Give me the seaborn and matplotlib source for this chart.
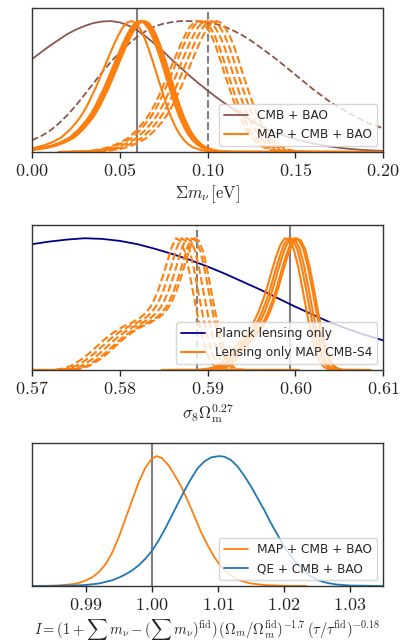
import matplotlib
matplotlib.use("Agg")
import matplotlib.pyplot as plt
import pandas as pd
import seaborn as sns

# ---- panel 1: sum of neutrino masses ----
MNU_X = [0.000, 0.005, 0.010, 0.015, 0.020, 0.025, 0.030, 0.035, 0.040, 0.045,
         0.050, 0.055, 0.060, 0.065, 0.070, 0.075, 0.080, 0.085, 0.090, 0.095,
         0.100, 0.105, 0.110, 0.115, 0.120, 0.125, 0.130, 0.135, 0.140, 0.145,
         0.150, 0.155, 0.160, 0.165, 0.170, 0.175, 0.180, 0.185, 0.190, 0.195, 0.200]
CMB_BAO_SOLID = [0.71, 0.76, 0.81, 0.855, 0.90, 0.935, 0.963, 0.985, 0.997, 1.000,
                 0.99, 0.965, 0.93, 0.88, 0.825, 0.765, 0.70, 0.64, 0.58, 0.523,
                 0.47, 0.418, 0.37, 0.323, 0.28, 0.238, 0.20, 0.168, 0.14, 0.118,
                 0.098, 0.08, 0.065, 0.052, 0.041, 0.032, 0.025, 0.019, 0.014, 0.011, 0.008]
CMB_BAO_DASHED = [0.09, 0.12, 0.16, 0.215, 0.28, 0.355, 0.44, 0.525, 0.61, 0.69,
                  0.76, 0.825, 0.88, 0.925, 0.96, 0.98, 0.993, 1.0, 1.0, 0.997,
                  0.99, 0.977, 0.955, 0.925, 0.89, 0.848, 0.80, 0.75, 0.70, 0.645,
                  0.59, 0.535, 0.48, 0.43, 0.38, 0.34, 0.30, 0.265, 0.23, 0.205, 0.18]

MAP_SOLID_DX = [-0.070, -0.065, -0.060, -0.055, -0.050, -0.045, -0.040, -0.035, -0.030,
                -0.0275, -0.025, -0.0225, -0.020, -0.0175, -0.015, -0.0125, -0.010,
                -0.0075, -0.005, -0.0025, 0.0, 0.0025, 0.005, 0.0075, 0.010, 0.0125,
                0.015, 0.0175, 0.020, 0.0225, 0.025, 0.0275, 0.030, 0.0325, 0.035,
                0.040, 0.045, 0.050, 0.090]
MAP_SOLID_Y = [0.010, 0.015, 0.022, 0.033, 0.050, 0.075, 0.11, 0.17, 0.25,
               0.30, 0.36, 0.43, 0.50, 0.58, 0.66, 0.74, 0.82,
               0.89, 0.95, 0.988, 1.0, 0.985, 0.94, 0.87, 0.78, 0.68,
               0.57, 0.465, 0.36, 0.27, 0.195, 0.135, 0.09, 0.058, 0.036,
               0.013, 0.004, 0.001, 0.0]
MAP_SOLID_PEAKS = [0.0566, 0.0614, 0.0623, 0.0633, 0.0640]

MAP_DASHED_DX = [-0.080, -0.065, -0.060, -0.055, -0.050, -0.045, -0.040, -0.035, -0.030,
                 -0.0275, -0.025, -0.0225, -0.020, -0.0175, -0.015, -0.0125, -0.010,
                 -0.0075, -0.005, -0.0025, 0.0, 0.0025, 0.005, 0.0075, 0.010, 0.0125,
                 0.015, 0.0175, 0.020, 0.0225, 0.025, 0.0275, 0.030, 0.0325, 0.035,
                 0.040, 0.045, 0.050, 0.100]
MAP_DASHED_Y = [0.0, 0.006, 0.012, 0.022, 0.040, 0.068, 0.105, 0.165, 0.245,
                0.295, 0.355, 0.425, 0.50, 0.58, 0.66, 0.74, 0.82,
                0.89, 0.95, 0.988, 1.0, 0.988, 0.95, 0.89, 0.81, 0.71,
                0.60, 0.50, 0.40, 0.31, 0.235, 0.17, 0.12, 0.08, 0.052,
                0.02, 0.007, 0.002, 0.0]
MAP_DASHED_PEAKS = [0.0946, 0.0965, 0.0994, 0.1022, 0.1050]

MNU_TICKS = [0.00, 0.05, 0.10, 0.15, 0.20]
MNU_TICK_LABELS = ["0.00", "0.05", "0.10", "0.15", "0.20"]

# ---- panel 2: sigma8 Omega_m^0.27 ----
S8_X = [0.570, 0.572, 0.574, 0.576, 0.578, 0.580, 0.582, 0.584, 0.586, 0.588, 0.590,
        0.592, 0.594, 0.596, 0.598, 0.600, 0.602, 0.604, 0.606, 0.608, 0.610]
PLANCK_LENS = [0.955, 0.975, 0.99, 1.0, 0.995, 0.98, 0.955, 0.92, 0.88, 0.835, 0.785,
               0.73, 0.67, 0.61, 0.545, 0.48, 0.42, 0.36, 0.31, 0.265, 0.225]

S4_DASHED_DX = [-0.020, -0.014, -0.013, -0.012, -0.011, -0.010, -0.009, -0.008, -0.007,
                -0.006, -0.005, -0.0045, -0.004, -0.0035, -0.003, -0.0025, -0.002,
                -0.0015, -0.001, -0.0005, 0.0, 0.0005, 0.001, 0.0015, 0.002, 0.0025,
                0.003, 0.0035, 0.004, 0.0045, 0.005, 0.006, 0.012]
S4_DASHED_Y = [0.0, 0.0, 0.01, 0.03, 0.07, 0.12, 0.18, 0.24, 0.29,
               0.33, 0.36, 0.38, 0.40, 0.43, 0.47, 0.53, 0.61,
               0.71, 0.82, 0.93, 1.0, 0.98, 0.90, 0.75, 0.57, 0.40,
               0.25, 0.13, 0.06, 0.02, 0.005, 0.0, 0.0]
S4_DASHED_PEAKS = [0.5864, 0.5870, 0.5876, 0.5882, 0.5885]

S4_SOLID_DX = [-0.014, -0.010, -0.009, -0.008, -0.0075, -0.007, -0.0065, -0.006, -0.0055,
               -0.005, -0.0045, -0.004, -0.0035, -0.003, -0.0025, -0.002, -0.0015,
               -0.001, -0.0005, 0.0, 0.0005, 0.001, 0.0015, 0.002, 0.0025, 0.003,
               0.0035, 0.004, 0.0045, 0.005, 0.0055, 0.0085]
S4_SOLID_Y = [0.0, 0.0, 0.008, 0.02, 0.04, 0.07, 0.11, 0.15, 0.19,
              0.23, 0.27, 0.31, 0.37, 0.44, 0.53, 0.63, 0.75,
              0.86, 0.95, 1.0, 0.985, 0.92, 0.79, 0.62, 0.44, 0.27,
              0.14, 0.06, 0.02, 0.005, 0.0, 0.0]
S4_SOLID_PEAKS = [0.5988, 0.5992, 0.5995, 0.5999, 0.6001]

S8_TICKS = [0.57, 0.58, 0.59, 0.60, 0.61]
S8_TICK_LABELS = ["0.57", "0.58", "0.59", "0.60", "0.61"]

# ---- panel 3: combined parameter I ----
I_MAP_X = [0.9818, 0.984, 0.986, 0.988, 0.989, 0.990, 0.991, 0.992, 0.993, 0.994,
           0.995, 0.996, 0.997, 0.998, 0.999, 1.000, 1.0007, 1.0015, 1.0025, 1.0035,
           1.0045, 1.0055, 1.0065, 1.0075, 1.0085, 1.0095, 1.0105, 1.0115, 1.0125,
           1.0135, 1.015, 1.017, 1.020, 1.0235]
I_MAP_Y = [0.0, 0.002, 0.005, 0.015, 0.025, 0.044, 0.07, 0.11, 0.17, 0.26,
           0.38, 0.52, 0.66, 0.80, 0.91, 0.98, 1.0, 0.985, 0.93, 0.85,
           0.76, 0.65, 0.53, 0.41, 0.31, 0.22, 0.15, 0.10, 0.065,
           0.04, 0.02, 0.008, 0.002, 0.0]
I_QE_X = [0.9818, 0.985, 0.988, 0.990, 0.992, 0.994, 0.995, 0.996, 0.997, 0.998,
          0.999, 1.000, 1.001, 1.002, 1.003, 1.004, 1.005, 1.006, 1.007, 1.008,
          1.009, 1.0102, 1.011, 1.012, 1.013, 1.014, 1.015, 1.016, 1.017, 1.018,
          1.019, 1.020, 1.021, 1.022, 1.023, 1.024, 1.025, 1.026, 1.027, 1.028,
          1.030, 1.0351]
I_QE_Y = [0.0, 0.001, 0.004, 0.008, 0.02, 0.045, 0.065, 0.09, 0.12, 0.16,
          0.21, 0.27, 0.35, 0.44, 0.54, 0.64, 0.74, 0.83, 0.91, 0.96,
          0.99, 1.0, 0.995, 0.97, 0.92, 0.85, 0.77, 0.68, 0.59, 0.49,
          0.40, 0.31, 0.24, 0.17, 0.12, 0.08, 0.05, 0.032, 0.02, 0.012,
          0.004, 0.0]

I_TICKS = [0.99, 1.00, 1.01, 1.02, 1.03]
I_TICK_LABELS = ["0.99", "1.00", "1.01", "1.02", "1.03"]

ORANGE = "#ff7f0e"
BROWN = "#8c564b"
NAVY = "#00008b"
BLUE = "#1f77b4"

sns.set_theme(style="ticks")
plt.rcParams["font.family"] = ["DejaVu Sans"]
plt.rcParams["mathtext.fontset"] = "cm"
plt.rcParams["axes.edgecolor"] = "#333333"
plt.rcParams["axes.linewidth"] = 1.0


def curve(ax, x, y, **kw):
    df = pd.DataFrame({"x": x, "y": y})
    sns.lineplot(data=df, x="x", y="y", ax=ax, sort=False, estimator=None, **kw)


def shifted(ax, dx, y, peaks, label, **kw):
    # same curve shape, placed at each read-off peak position
    for i, p in enumerate(peaks):
        xs = [p + d for d in dx]
        curve(ax, xs, y, label=label if i == 0 else None, **kw)


def finish(ax, xlim, ticks, labels, xlabel, fs=12):
    ax.set_xlim(*xlim)
    ax.set_ylim(0, 1.1)
    ax.set_yticks([])
    ax.set_ylabel("")
    ax.set_xticks(ticks)
    ax.set_xticklabels(["$%s$" % t for t in labels], fontsize=13)
    ax.tick_params(axis="x", direction="out", length=4, width=1)
    ax.set_xlabel(xlabel, fontsize=fs, labelpad=2)
    ax.legend(loc="lower right", fontsize=8.7)


fig = plt.figure(figsize=(4.16, 6.44), dpi=100)
ax1 = fig.add_axes([0.077, 0.764, 0.844, 0.2236])
ax2 = fig.add_axes([0.077, 0.4255, 0.844, 0.225])
ax3 = fig.add_axes([0.077, 0.090, 0.844, 0.222])

# panel 1
ax1.axvline(0.06, color="gray", lw=1.5, zorder=1)
ax1.axvline(0.10, color="gray", lw=1.5, ls="--", zorder=1)
curve(ax1, MNU_X, CMB_BAO_SOLID, color=BROWN, lw=1.3, label="CMB + BAO")
curve(ax1, MNU_X, CMB_BAO_DASHED, color=BROWN, lw=1.3, ls="--")
shifted(ax1, MAP_SOLID_DX, MAP_SOLID_Y, MAP_SOLID_PEAKS, "MAP + CMB + BAO", color=ORANGE, lw=1.5)
shifted(ax1, MAP_DASHED_DX, MAP_DASHED_Y, MAP_DASHED_PEAKS, None, color=ORANGE, lw=1.5, ls="--")
finish(ax1, (0.0, 0.2), MNU_TICKS, MNU_TICK_LABELS, r"$\Sigma m_\nu\,[\mathrm{eV}]$")

# panel 2
ax2.axvline(0.5888, color="gray", lw=1.5, ls="--", zorder=1)
ax2.axvline(0.5994, color="gray", lw=1.5, zorder=1)
curve(ax2, S8_X, PLANCK_LENS, color=NAVY, lw=1.3, label="Planck lensing only")
shifted(ax2, S4_SOLID_DX, S4_SOLID_Y, S4_SOLID_PEAKS, "Lensing only MAP CMB-S4", color=ORANGE, lw=1.5)
shifted(ax2, S4_DASHED_DX, S4_DASHED_Y, S4_DASHED_PEAKS, None, color=ORANGE, lw=1.5, ls="--")
finish(ax2, (0.57, 0.61), S8_TICKS, S8_TICK_LABELS, r"$\sigma_8\Omega_{\rm m}^{0.27}$")

# panel 3
ax3.axvline(1.0, color="gray", lw=1.5, zorder=1)
curve(ax3, I_MAP_X, I_MAP_Y, color=ORANGE, lw=1.3, label="MAP + CMB + BAO")
curve(ax3, I_QE_X, I_QE_Y, color=BLUE, lw=1.3, label="QE + CMB + BAO")
finish(ax3, (0.9818, 1.0351), I_TICKS, I_TICK_LABELS,
       r"$I = (1 + \sum\, m_\nu - (\sum\, m_\nu)^{\rm fid})\,(\Omega_m/\Omega_m^{\rm fid})^{-1.7}\,(\tau/\tau^{\rm fid})^{-0.18}$",
       fs=10.5)

fig.savefig("out.png", dpi=100)
